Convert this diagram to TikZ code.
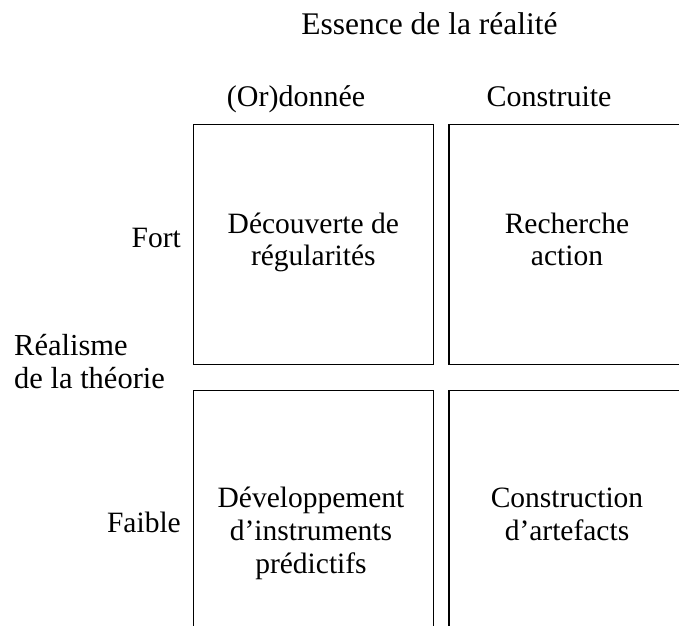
\documentclass[tikz,border=0pt]{standalone}
\usepackage{fontspec}
\setmainfont{Liberation Serif}
\begin{document}
\begin{tikzpicture}[x=1pt,y=-1pt,
  lbl/.style={font=\fontsize{29.5}{33}\selectfont, inner sep=0pt, anchor=base},
  big/.style={lbl, font=\fontsize{31.5}{35}\selectfont},
  hdr/.style={lbl, font=\fontsize{30}{33}\selectfont},
  lblr/.style={lbl, anchor=base east},
  lbll/.style={lbl, font=\fontsize{30.5}{33}\selectfont, anchor=base west},
  cell/.style={draw, line width=1.5pt, inner sep=0pt, minimum width=240pt, minimum height=240pt}]
\useasboundingbox (0,0) rectangle (679,625);
\clip (0,0) rectangle (679,625);
% cells
\node[cell] (tl) at (313.3,244.3) {};
\node[cell] (tr) at (569,244.3) {};
\node[cell] (bl) at (313.3,510.7) {};
\node[cell] (br) at (569,510.7) {};
% headings
\node[big] (title) at (429.5,34) {Essence de la réalité};
\node[hdr] (col1) at (296,106) {(Or)donnée};
\node[hdr] (col2) at (549,106) {Construite};
\node[lblr] (fort) at (181,247) {Fort};
\node[lblr] (faible) at (181,532) {Faible};
\node[lbll] (real1) at (14,355) {Réalisme};
\node[lbll] (real2) at (14,388) {de la théorie};
% cell texts
\node[lbl] (tla) at (313.3,233) {Découverte de};
\node[lbl] (tlb) at (313.3,265) {régularités};
\node[lbl] (tra) at (567,233) {Recherche};
\node[lbl] (trb) at (567,265) {action};
\node[lbl] (bla) at (311,507) {Développement};
\node[lbl] (blb) at (311,540) {d’instruments};
\node[lbl] (blc) at (311,573) {prédictifs};
\node[lbl] (bra) at (567,507) {Construction};
\node[lbl] (brb) at (567,540) {d’artefacts};
\end{tikzpicture}
\end{document}
